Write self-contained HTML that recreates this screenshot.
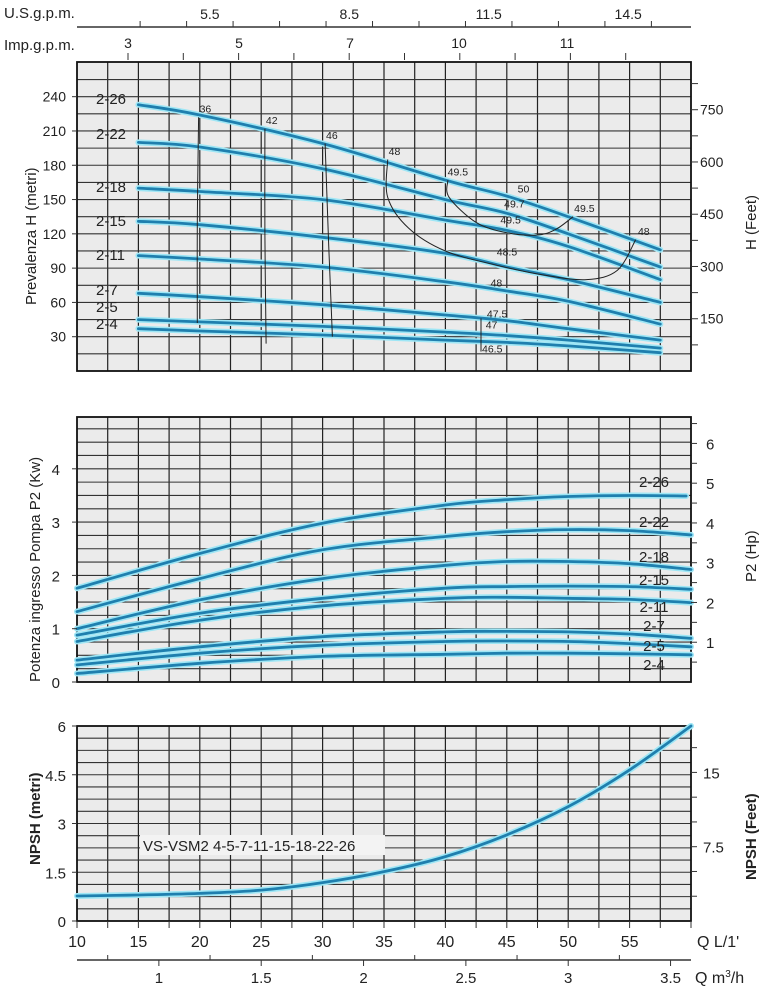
<!DOCTYPE html>
<html><head><meta charset="utf-8">
<style>
html,body{margin:0;padding:0;background:#fff;}
svg{display:block;font-family:"Liberation Sans Narrow","Liberation Sans",sans-serif;}
</style></head>
<body>
<svg id="c" width="767" height="1000" viewBox="0 0 767 1000" xmlns="http://www.w3.org/2000/svg"></svg>
<script>
// ---------- data ----------
const qTicks = [10,15,20,25,30,35,40,45,50,55];
const m3hLabels = [1,1.5,2,2.5,3,3.5];
const usgpmLabels = [5.5,8.5,11.5,14.5];
const impLabels = ['3','5','7','10','11'];
const headTicks = [30,60,90,120,150,180,210,240];
const feetTicks = [150,300,450,600,750];
const powerTicks = [0,1,2,3,4];
const hpTicks = [1,2,3,4,5,6];
const npshTicks = [0,1.5,3,4.5,6];
const npshFeetTicks = [7.5,15];
const models = ['2-26','2-22','2-18','2-15','2-11','2-7','2-5','2-4'];
const headQ = [15,20,30,40,45,50,57.5];
const head226 = [233,224,199,167,153,135,106];
const head222 = [200,196,177,150,138,120,91];
const head218 = [160,157,150,132,123,109,80];
const head215 = [131,128,117,103,91,80,60];
const head211 = [101,98,91,78,70,61,41];
const head27  = [68,65,58,49,44,37,27];
const head25  = [45,43,39,34,31,27,20];
const head24  = [37,35,31.5,27,25,22,16];
const powerQ = [10,20,30,40,45,50,55,60];
const pow226 = [1.76,2.41,2.98,3.32,3.42,3.48,3.5,3.49];
const pow222 = [1.32,1.94,2.48,2.73,2.82,2.86,2.84,2.76];
const pow218 = [1.0,1.54,1.94,2.19,2.26,2.26,2.22,2.11];
const pow215 = [0.88,1.29,1.57,1.76,1.79,1.8,1.79,1.74];
const pow211 = [0.76,1.16,1.43,1.57,1.59,1.57,1.55,1.49];
const pow27  = [0.41,0.66,0.85,0.94,0.95,0.94,0.9,0.82];
const pow25  = [0.32,0.54,0.69,0.76,0.77,0.76,0.72,0.66];
const pow24  = [0.16,0.35,0.48,0.52,0.54,0.54,0.53,0.51];
const npshQ = [10,15,20,25,30,35,40,45,50,55,60];
const npshVal = [0.77,0.8,0.85,0.95,1.18,1.52,1.98,2.65,3.52,4.65,6.0];
const eff36 = [[19.9,222],[19.8,130],[19.8,42]];
const eff42 = [[25.3,212],[25.3,120],[25.4,24]];
const eff46 = [[30.2,199],[30.5,110],[30.8,30]];
const eff48 = [[35.3,185],[35.3,152],[37,125],[40,105],[44,93],[48,84],[51.5,80],[54,88],[55.5,115]];
const eff495 = [[40.2,167],[40.3,152],[42.5,130],[45,121],[47.5,119],[49,124],[50.4,135]];
const effLabels = [['36',19.9,226],['42',25.3,216],['46',30.2,203],['48',35.3,189],['49.5',40.1,171],['50',45.8,156],['49.7',44.7,143],['49.5',44.4,129],['48.5',44.1,101],['48',43.6,74],['47.5',43.3,47],['47',43.2,37],['46.5',42.9,16],['49.5',50.4,139],['48',55.6,119]];

// ---------- scales ----------
const X = q => 77 + (q-10)*12.28;
const YH = h => 371 - h*1.143;
const YP = p => 682 - p*53.3;
const YN = n => 921 - n*32.5;
const NS = 'http://www.w3.org/2000/svg';
const svg = document.getElementById('c');
function el(tag, attrs, parent, txt){
  const e = document.createElementNS(NS, tag);
  for (const k in attrs) e.setAttribute(k, attrs[k]);
  if (txt !== undefined) e.textContent = txt;
  (parent||svg).appendChild(e);
  return e;
}
function smooth(pts){
  let d = 'M'+pts[0][0].toFixed(1)+','+pts[0][1].toFixed(1);
  for (let i=0;i<pts.length-1;i++){
    const p0=pts[i-1]||pts[i], p1=pts[i], p2=pts[i+1], p3=pts[i+2]||p2;
    const c1=[p1[0]+(p2[0]-p0[0])/6, p1[1]+(p2[1]-p0[1])/6];
    const c2=[p2[0]-(p3[0]-p1[0])/6, p2[1]-(p3[1]-p1[1])/6];
    d += ' C'+c1[0].toFixed(1)+','+c1[1].toFixed(1)+' '+c2[0].toFixed(1)+','+c2[1].toFixed(1)+' '+p2[0].toFixed(1)+','+p2[1].toFixed(1);
  }
  return d;
}
function panel(name, y0, y1, hStep, hMin, hMax, ys){
  const g = el('g', {});
  
  
  el('rect', {x:77, y:y0, width:614, height:y1-y0, fill:'#ebebeb'}, g);
  for (let q=12.5; q<60; q+=2.5) el('line', {x1:X(q), x2:X(q), y1:y0, y2:y1, stroke:'#222', 'stroke-width':1.2}, g);
  for (let v=hMin+hStep; v<hMax-1e-6; v+=hStep) el('line', {x1:77, x2:691, y1:ys(v), y2:ys(v), stroke:'#333', 'stroke-width':1.1}, g);
  el('rect', {x:77, y:y0, width:614, height:y1-y0, fill:'none', stroke:'#111', 'stroke-width':1.8}, g);
  return g;
}
function curve(g, name, pts){
  const d = smooth(pts);
  el('path', {d, fill:'none', stroke:'#9ee6f5', 'stroke-width':6, 'stroke-linecap':'round'}, g);
  const p = el('path', {d, fill:'none', stroke:'#1f7fae', 'stroke-width':2.8, 'stroke-linecap':'round'}, g);
  
  
}
function txt(x,y,s,name,opts){
  const t = el('text', Object.assign({x, y, 'font-size':13, fill:'#222'}, opts||{}), svg, s);
  
  
  return t;
}

// ---------- top axes ----------
el('line', {x1:77, x2:691, y1:27, y2:27, stroke:'#333', 'stroke-width':1.5});
txt(4,18,'U.S.g.p.m.','usgpm-axis-title',{'font-size':15});
for (let u=4; u<=16; u++){ const x = X(u*3.785); if (x>80 && x<690) el('line',{x1:x,x2:x,y1:21,y2:27,stroke:'#333'}); }
usgpmLabels.forEach(u => txt(X(u*3.785), 19, String(u), 'usgpm-tick-label', {'text-anchor':'middle','font-size':14}));
txt(4,50,'Imp.g.p.m.','impgpm-axis-title',{'font-size':15});
for (let k=0;k<10;k++){ const x = 128 + k*55.3; el('line',{x1:x,x2:x,y1:53,y2:60,stroke:'#333'}); }
impLabels.forEach((s,i) => txt([128,239,350,459,567][i], 48, s, 'impgpm-tick-label', {'text-anchor':'middle','font-size':14}));

// ---------- head chart ----------
const gH = panel('head-chart', 62, 371, 15, 0, 270, YH);
[[head226,'2-26'],[head222,'2-22'],[head218,'2-18'],[head215,'2-15'],[head211,'2-11'],[head27,'2-7'],[head25,'2-5'],[head24,'2-4']].forEach(([arr,m]) => curve(gH, 'head-curve-'+m, headQ.map((q,i)=>[X(q),YH(arr[i])])));
[eff36,eff42,eff46,eff48,eff495].forEach((e,i) => {
  const p = el('path', {d:smooth(e.map(a=>[X(a[0]),YH(a[1])])), fill:'none', stroke:'#222', 'stroke-width':1}, gH);
  
  
});
el('line',{x1:X(42.9),x2:X(42.9),y1:YH(46),y2:YH(17),stroke:'#222','stroke-width':1},gH);
effLabels.forEach(l => { const t = el('text',{x:X(l[1])+1,y:YH(l[2]),'font-size':10.5,fill:'#222'},gH,l[0]);   });
headTicks.forEach(h => { el('line',{x1:72,x2:77,y1:YH(h),y2:YH(h),stroke:'#333'}); txt(66,YH(h)+5,String(h),'head-tick-label',{'text-anchor':'end','font-size':14}); });
for (let f=75; f<=825; f+=75){ const y = 371 - f*0.3048*1.143; if (y>62) el('line',{x1:691,x2:698,y1:y,y2:y,stroke:'#333'}); }
feetTicks.forEach(f => txt(700, 371 - f*0.3048*1.143 + 5, String(f), 'feet-tick-label', {'font-size':14}));
const headLabY = [104,139,192,226,260,295,312,329];
models.forEach((m,i) => txt(96, headLabY[i], m, 'head-model-label', {'font-size':15}));
txt(0,0,'Prevalenza H (metri)','head-axis-title',{'font-size':15,transform:'translate(36,305) rotate(-90)','font-family':'Liberation Sans, sans-serif'});
txt(0,0,'H (Feet)','head-feet-axis-title',{'font-size':15,transform:'translate(756,250) rotate(-90)','font-family':'Liberation Sans, sans-serif'});

// ---------- power chart ----------
const gP = panel('power-chart', 417, 682, 0.25, 0, 5, YP);
[[pow226,'2-26'],[pow222,'2-22'],[pow218,'2-18'],[pow215,'2-15'],[pow211,'2-11'],[pow27,'2-7'],[pow25,'2-5'],[pow24,'2-4']].forEach(([arr,m]) => curve(gP, 'power-curve-'+m, powerQ.map((q,i)=>[X(Math.min(q, m==='2-26'?59.6:60)),YP(arr[i])])));
powerTicks.forEach(p => { el('line',{x1:72,x2:77,y1:YP(p),y2:YP(p),stroke:'#333'}); txt(60,YP(p)+6,String(p),'power-tick-label',{'text-anchor':'end','font-size':15}); });
for (let h=0.5; h<=6.5; h+=0.5) el('line',{x1:691,x2:697,y1:YP(h*0.746),y2:YP(h*0.746),stroke:'#333'});
hpTicks.forEach(h => txt(706, YP(h*0.746)+6, String(h), 'hp-tick-label', {'font-size':15}));
const powLabY = [487,527,562,585,612,631,651,670];
models.forEach((m,i) => { const t = txt(654, powLabY[i], m, 'power-model-label', {'text-anchor':'middle','font-size':15}); });
txt(0,0,'Potenza ingresso Pompa P2 (Kw)','power-axis-title',{'font-size':15,transform:'translate(40,682) rotate(-90)','font-family':'Liberation Sans, sans-serif'});
txt(0,0,'P2 (Hp)','hp-axis-title',{'font-size':15,transform:'translate(756,582) rotate(-90)','font-family':'Liberation Sans, sans-serif'});

// ---------- NPSH chart ----------
const gN = panel('npsh-chart', 726, 921, 0.375, 0, 6, YN);
curve(gN, 'npsh-curve', npshQ.map((q,i)=>[X(q),YN(npshVal[i])]));
const lb = el('rect',{x:140,y:835,width:245,height:20,fill:'#f3f3f3'},gN);
txt(143,851,'VS-VSM2 4-5-7-11-15-18-22-26','npsh-model-label',{'font-size':15});
npshTicks.forEach(n => { el('line',{x1:72,x2:77,y1:YN(n),y2:YN(n),stroke:'#333'}); txt(66,YN(n)+6,String(n),'npsh-tick-label',{'text-anchor':'end','font-size':15}); });
for (let f=2.5; f<=20; f+=2.5){ const y = YN(f*0.3048); if (y>728) el('line',{x1:691,x2:697,y1:y,y2:y,stroke:'#333'}); }
npshFeetTicks.forEach(f => txt(703, YN(f*0.3048)+6, String(f), 'npsh-feet-tick-label', {'font-size':15}));
txt(0,0,'NPSH (metri)','npsh-axis-title',{'font-size':15,transform:'translate(40,865) rotate(-90)','font-family':'Liberation Sans, sans-serif','font-weight':'bold'});
txt(0,0,'NPSH (Feet)','npsh-feet-axis-title',{'font-size':15,transform:'translate(756,880) rotate(-90)','font-family':'Liberation Sans, sans-serif','font-weight':'bold'});

// ---------- bottom axes ----------
for (let q=10; q<=60; q+=2.5) el('line',{x1:X(q),x2:X(q),y1:921,y2:928,stroke:'#333'});
qTicks.forEach(q => txt(X(q), 947, String(q), 'flow-tick-label', {'text-anchor':'middle','font-size':16}));
txt(697,947,"Q L/1'",'flow-axis-title',{'font-size':16});
el('line',{x1:77,x2:691,y1:960,y2:960,stroke:'#333','stroke-width':1.5});
for (let m=0.75; m<=3.6; m+=0.25){ const x = X(m*16.667); if (x<690) el('line',{x1:x,x2:x,y1:(Math.abs(m*2-Math.round(m*2))<1e-6)?960:955,y2:(Math.abs(m*2-Math.round(m*2))<1e-6)?966:960,stroke:'#333'}); }
m3hLabels.forEach(m => txt(X(m*16.667), 983, String(m), 'm3h-tick-label', {'text-anchor':'middle','font-size':15}));
const qm = txt(695,983,'Q m','m3h-axis-title',{'font-size':16});
el('tspan',{'font-size':10,dy:-6},qm,'3');
el('tspan',{dy:6},qm,'/h');
</script>
</body></html>
